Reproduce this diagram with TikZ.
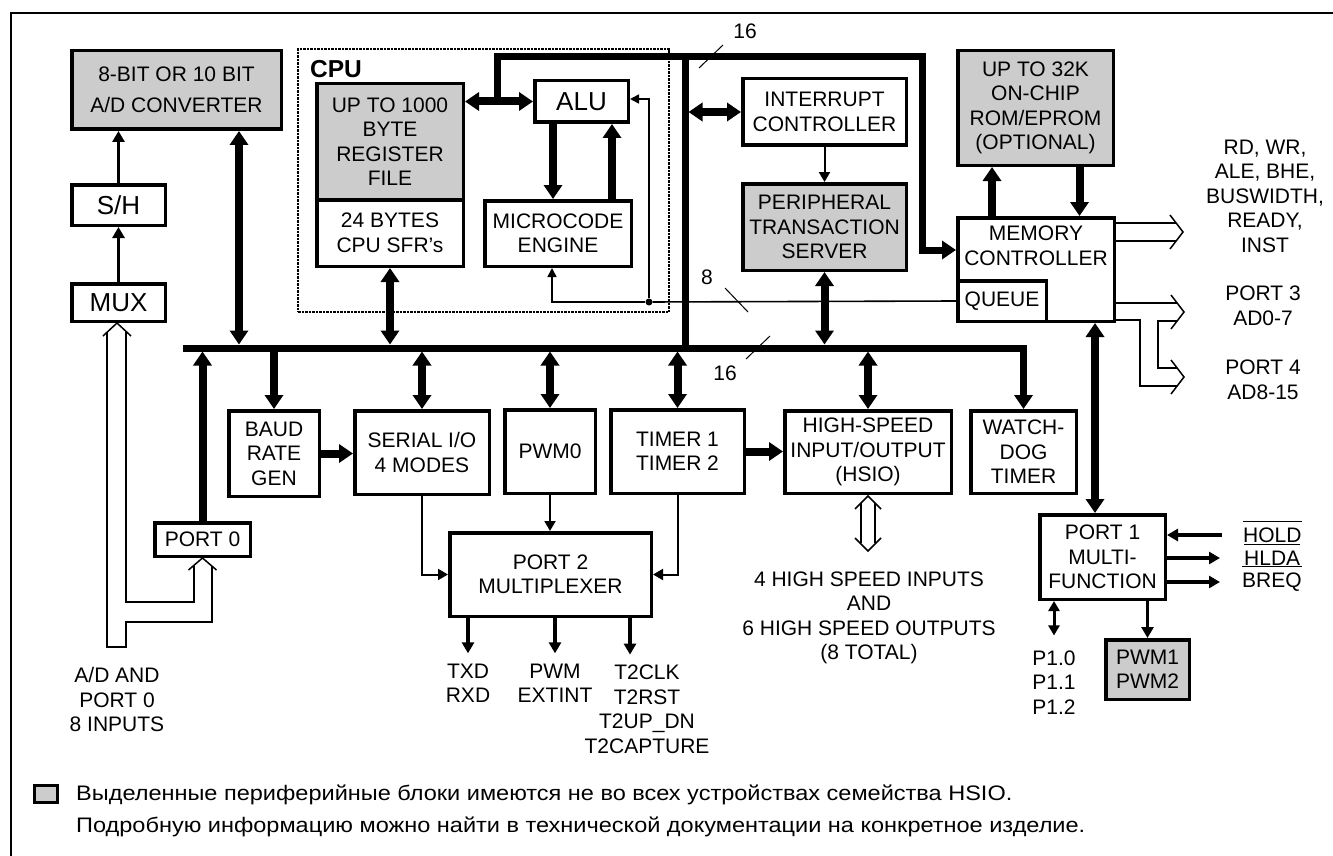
\documentclass[tikz,border=0pt]{standalone}
\usepackage{fontspec}
\setmainfont{Liberation Sans}
\newfontfamily\notefont[FakeStretch=1.12]{Liberation Sans}
\usetikzlibrary{arrows.meta}
\definecolor{optgray}{RGB}{204,204,204}
\newcommand{\mainfs}{\fontsize{21}{24.5}\selectfont}
\newcommand{\bigfs}{\fontsize{26}{30}\selectfont}
\newcommand{\notefs}{\notefont\fontsize{21}{25}\selectfont}
\newsavebox{\ovlbox}
\newcommand{\ovl}[1]{\sbox{\ovlbox}{#1}\smash{\rlap{\rule[\dimexpr\ht\ovlbox+5.5pt\relax]{\wd\ovlbox}{1.5pt}}}\usebox{\ovlbox}}

\begin{document}
\begin{tikzpicture}[x=1pt,y=-1pt,
  blk/.style={draw,line width=3.5pt,inner sep=0pt,align=center,font=\mainfs},
  gblk/.style={blk,fill=optgray},
  lbl/.style={inner sep=0pt,align=center,font=\mainfs},
  bus/.style={line width=7pt},
  fatarr/.style={line width=8pt,-{Triangle[length=14pt,width=18pt]}},
  fatdbl/.style={line width=8pt,{Triangle[length=14pt,width=18pt]}-{Triangle[length=14pt,width=18pt]}},
  medarr/.style={line width=3.5pt,-{Triangle[length=11pt,width=12pt]}},
  meddbl/.style={line width=3pt,{Triangle[length=10pt,width=11pt]}-{Triangle[length=10pt,width=11pt]}},
  finearr/.style={line width=2pt,-{Triangle[length=10pt,width=11pt]}},
  tinyarr/.style={line width=1.6pt,-{Triangle[length=9pt,width=9pt]}},
  hol/.style={line width=1.5pt},
  wtick/.style={line width=1pt}]

  \useasboundingbox (0,0) rectangle (1333,856);
  \draw[line width=2pt] (11,856) -- (11,13) -- (1333,13);

  % left column: A/D path
  \node[gblk,minimum width=209.5pt,minimum height=78.5pt] (adc) at (176.5,90) {8-BIT OR 10 BIT\\[6pt]A/D CONVERTER};
  \node[blk,font=\bigfs,minimum width=93.5pt,minimum height=40.5pt] (sh) at (118.5,205) {S/H};
  \node[blk,font=\bigfs,minimum width=93.5pt,minimum height=37.5pt] (mux) at (118.5,302.5) {MUX};
  \node[blk,minimum width=95.5pt,minimum height=33.5pt] (port0) at (202.5,539.5) {PORT 0};

  % CPU
  \node[draw,densely dotted,line width=2.5pt,minimum width=371pt,minimum height=263pt] (cpu) at (483.5,180.5) {};
  \node[anchor=base west,inner sep=0pt,font=\fontsize{24.5}{28}\selectfont\bfseries] (cpulbl) at (310,78) {CPU};
  \node[gblk,minimum width=146.5pt,minimum height=116pt] (reg) at (390,141.75) {UP TO 1000\\BYTE\\REGISTER\\FILE};
  \node[blk,minimum width=146.5pt,minimum height=66.5pt] (sfr) at (390,233) {24 BYTES\\CPU SFR's};
  \node[blk,font=\bigfs,minimum width=93.5pt,minimum height=41.5pt] (alu) at (581.5,101.5) {ALU};
  \node[blk,minimum width=146.5pt,minimum height=65.5pt] (mce) at (558,233.5) {MICROCODE\\ENGINE};

  \node[blk,minimum width=163.5pt,minimum height=66.5pt] (intc) at (824.5,112) {INTERRUPT\\CONTROLLER};
  \node[gblk,minimum width=163.5pt,minimum height=86.5pt] (pts) at (824.5,227) {PERIPHERAL\\TRANSACTION\\SERVER};

  % memory side
  \node[gblk,minimum width=155.5pt,minimum height=114.5pt] (rom) at (1035.5,108) {UP TO 32K\\ON-CHIP\\ROM/EPROM\\(OPTIONAL)};
  \node[blk,minimum width=156.5pt,minimum height=103.5pt] (memc) at (1036,269.5) {};
  \node[lbl] (memct) at (1036,246) {MEMORY\\CONTROLLER};
  \node[blk,minimum width=88.5pt,minimum height=40.5pt] (queue) at (1002,301) {QUEUE};

  % peripherals
  \node[blk,minimum width=90.5pt,minimum height=85.5pt] (baud) at (274,453.5) {BAUD\\RATE\\GEN};
  \node[blk,minimum width=134.5pt,minimum height=83.5pt] (serial) at (422,452.5) {SERIAL I/O\\4 MODES};
  \node[blk,minimum width=90.5pt,minimum height=83.5pt] (pwm0) at (550,451.5) {PWM0};
  \node[blk,minimum width=133.5pt,minimum height=83.5pt] (timer) at (677.5,451.5) {TIMER 1\\TIMER 2};
  \node[blk,minimum width=166.5pt,minimum height=82.5pt] (hsio) at (868,452) {HIGH-SPEED\\INPUT/OUTPUT\\(HSIO)};
  \node[blk,minimum width=105.5pt,minimum height=82.5pt] (wdt) at (1023.5,452) {WATCH-\\DOG\\TIMER};
  \node[blk,minimum width=201.5pt,minimum height=83.5pt] (port2) at (550.5,574.5) {PORT 2\\MULTIPLEXER};
  \node[blk,minimum width=125.5pt,minimum height=84.5pt] (port1) at (1102.5,557) {PORT 1\\MULTI-\\FUNCTION};
  \node[gblk,minimum width=83.5pt,minimum height=59.5pt] (pwm12) at (1147.5,669.5) {PWM1\\PWM2};

  % signal texts
  \node[lbl] (adin) at (117,699.5) {A/D AND\\PORT 0\\8 INPUTS};
  \node[lbl] (txd) at (468,683.5) {TXD\\RXD};
  \node[lbl] (pwmx) at (555,683.5) {PWM\\EXTINT};
  \node[lbl] (t2) at (647,709.5) {T2CLK\\T2RST\\T2UP\_DN\\T2CAPTURE};
  \node[lbl] (hsout) at (869,618) {4 HIGH SPEED INPUTS\\AND\\6 HIGH SPEED OUTPUTS\\(8 TOTAL)};
  \node[lbl] (p1x) at (1054,682.5) {P1.0\\P1.1\\P1.2};
  \node[lbl] (rdwr) at (1265,196) {RD, WR,\\ALE, BHE,\\BUSWIDTH,\\READY,\\INST};
  \node[lbl] (p3lbl) at (1263,306) {PORT 3\\AD0-7};
  \node[lbl] (p4lbl) at (1263,380) {PORT 4\\AD8-15};
  \node[lbl,anchor=west] (hold) at (1243,535) {\ovl{HOLD}};
  \node[lbl,anchor=west] (hlda) at (1244,558) {\ovl{HLDA}};
  \node[lbl,anchor=west] (breq) at (1242,582) {\ovl{BREQ}};

  % buses
  \coordinate (busW) at (183,348);
  \coordinate (busT) at (0,344.5);
  \coordinate (busB) at (0,351.5);
  \coordinate (tbL) at (497,57);
  \coordinate (tbR) at (922,57);
  \coordinate (vb) at (685,57);
  \draw[bus,-{Triangle[length=14pt,width=18pt]}] (busW) -| (wdt.north);
  \draw[bus] (vb) -- (vb |- busW);
  \draw[fatarr,line width=7pt] (tbL |- alu.west) -- (tbL) -- (tbR) |- ([yshift=19.5pt]memc.west);

  \draw[wtick] (vb) ++(38,-12) -- ++(-24,23);
  \node[lbl] (w16t) at (745,31) {16};
  \draw[wtick] (vb |- busW) ++(85,-12) -- ++(-24,23);
  \node[lbl] (w16b) at (725,373) {16};

  % A/D path
  \draw[medarr] (mux.north) -- (sh.south);
  \draw[medarr] (sh.north) -- (sh.north |- adc.south);
  \draw[fatdbl] ([xshift=62.5pt]adc.south) -- ([xshift=62.5pt]adc.south |- busT);
  \draw[hol] (mux.south) ++(-15.5,13) -- ++(14,-13) -- ++(14,13);
  \draw[hol] (mux.south) ++(-11.5,9) -- ++(0,315) -- ++(19,0) -- ++(0,-25) -- ++(86,0) -- ++(0,-56);
  \draw[hol] (mux.south) ++(7.5,8) -- ++(0,271) -- ++(68,0) -- ++(0,-36.5);
  \draw[hol] (port0.south) ++(-14,12) -- ++(14,-12) -- ++(14,12);
  \draw[fatarr] (port0.north) -- (port0.north |- busB);

  % CPU links
  \draw[fatdbl] (alu.west -| reg.east) -- (alu.west);
  \draw[fatdbl] (sfr.south) -- (sfr.south |- busT);
  \draw[fatarr] ([xshift=-28.5pt]alu.south) -- ([xshift=-28.5pt]alu.south |- mce.north);
  \draw[fatarr] ([xshift=30.5pt]alu.south |- mce.north) -- ([xshift=30.5pt]alu.south);
  \node[circle,fill,inner sep=0pt,minimum size=7pt] (dot) at (649,302) {};
  \draw[line width=1.6pt] (queue.west) -- (dot);
  \draw[tinyarr] (dot) |- ([yshift=2.5pt]alu.east);
  \draw[tinyarr] (dot) -| ([xshift=-6pt]mce.south);
  \draw[wtick] (dot) ++(76,-14) -- ++(23,24);
  \node[lbl] (w8) at (707,277) {8};

  \draw[fatdbl] ([xshift=3.5pt]vb |- intc.west) -- (intc.west);
  \draw[finearr] (intc.south) -- (pts.north);
  \draw[fatdbl] (pts.south) -- (pts.south |- busT);

  % memory controller
  \draw[fatarr] ([xshift=-44pt]memc.north) -- ([xshift=-44pt]memc.north |- rom.south);
  \draw[fatarr] ([xshift=44pt]rom.south) -- ([xshift=44pt]rom.south |- memc.north);
  \coordinate (rdtip) at (1183,232);
  \coordinate (p3tip) at (1184,312);
  \coordinate (p4tip) at (1184,377);
  \draw[hol] (rdtip) ++(-7,-9) -- ++(-60,0);
  \draw[hol] (rdtip) ++(-7,9) -- ++(-60,0);
  \draw[hol] (rdtip) ++(-13,-17) -- (rdtip) -- ++(-13,17);
  \draw[hol] (p3tip) ++(-7,-9) -- ++(-61,0);
  \draw[hol] (p3tip) ++(-7,9) -- ++(-19,0) -- ++(0,47) -- ++(19,0);
  \draw[hol] (p4tip) ++(-7,9) -- ++(-37,0) -- ++(0,-66) -- ++(-24,0);
  \draw[hol] (p3tip) ++(-13,-17) -- (p3tip) -- ++(-13,17);
  \draw[hol] (p4tip) ++(-13,-17) -- (p4tip) -- ++(-13,17);
  \draw[fatdbl] ([xshift=-7.5pt]port1.north |- memc.south) -- ([xshift=-7.5pt]port1.north);

  % peripherals on the bus
  \draw[fatarr] (baud.north |- busB) -- (baud.north);
  \draw[fatdbl] (serial.north |- busB) -- (serial.north);
  \draw[fatdbl] (pwm0.north |- busB) -- (pwm0.north);
  \draw[fatdbl] (timer.north |- busB) -- (timer.north);
  \draw[fatdbl] (hsio.north |- busB) -- (hsio.north);
  \draw[fatarr] (baud.east) -- (baud.east -| serial.west);
  \draw[fatarr] (timer.east) -- (timer.east -| hsio.west);
  \draw[finearr] (serial.south) |- (port2.west);
  \draw[finearr] (timer.south) |- (port2.east);
  \draw[finearr] (pwm0.south) -- (pwm0.south |- port2.north);
  \draw[medarr] (port2.south -| txd.north) -- ([yshift=10.5pt]txd.north);
  \draw[medarr] (port2.south -| pwmx.north) -- ([yshift=10.5pt]pwmx.north);
  \draw[medarr] ([xshift=-17pt]port2.south -| t2.north) -- ([xshift=-17pt,yshift=10.5pt]t2.north);
  \draw[hol] (hsio.south) ++(-13,14) -- ++(13,-13) -- ++(13,13);
  \draw[hol] (hsio.south) ++(-7,8) -- ++(0,40);
  \draw[hol] (hsio.south) ++(7,8) -- ++(0,40);
  \draw[hol] (hsio.south) ++(-13,43) -- ++(13,13) -- ++(13,-13);

  % port 1
  \draw[medarr] ([xshift=-21pt]hold.west) -- (hold.west -| port1.east);
  \draw[medarr] (port1.east |- hlda.west) -- ([xshift=-24pt]hlda.west);
  \draw[medarr] (port1.east |- breq.west) -- ([xshift=-22pt]breq.west);
  \draw[medarr] (port1.south -| pwm12.north) -- (pwm12.north);
  \draw[meddbl] (port1.south -| p1x.north) -- ([yshift=15pt]p1x.north);

  % legend
  \node[gblk,line width=3pt,minimum width=23pt,minimum height=17pt] (leg) at (46,794) {};
  \node[anchor=west,inner sep=0pt,font=\notefs] (note1) at (76,795) {Выделенные периферийные блоки имеются не во всех устройствах семейства HSIO.};
  \node[anchor=west,inner sep=0pt,font=\notefs] (note2) at (76,827) {Подробную информацию можно найти в технической документации на конкретное изделие.};
\end{tikzpicture}
\end{document}
